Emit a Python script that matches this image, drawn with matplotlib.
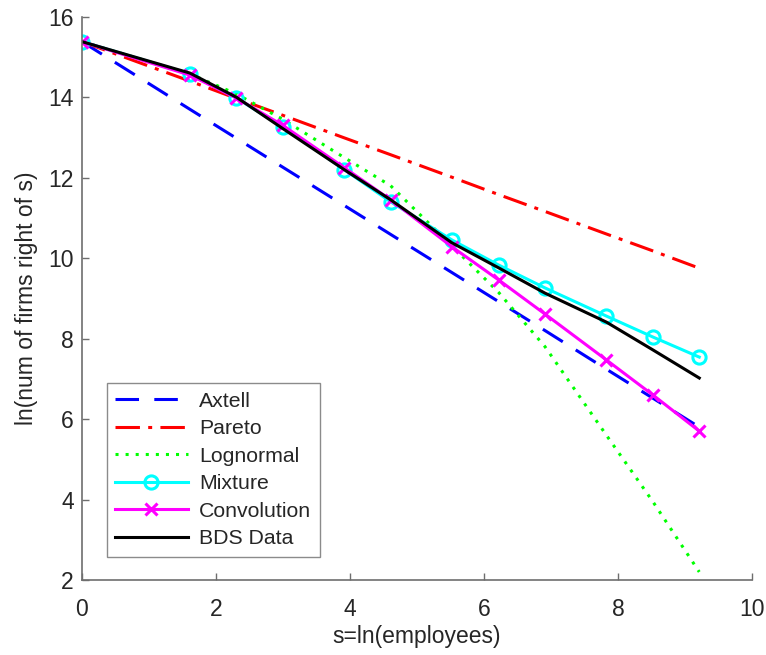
import numpy as np
import matplotlib
matplotlib.use("Agg")
import matplotlib.pyplot as plt

plt.rcParams['font.family'] = ['Liberation Sans', 'DejaVu Sans']

# x grid: ln of firm-size thresholds
s = [0.0, 1.609, 2.303, 2.996, 3.912, 4.605, 5.521, 6.215, 6.908, 7.824, 8.517, 9.210]

axtell = [15.38, 13.70, 12.98, 12.26, 11.31, 10.59, 9.64, 8.92, 8.20, 7.24, 6.52, 5.80]
pareto = [15.38, 14.40, 13.97, 13.55, 12.99, 12.57, 12.01, 11.58, 11.16, 10.60, 10.18, 9.75]
lognormal = [15.38, 14.58, 14.08, 13.45, 12.50, 11.80, 10.30, 9.15, 7.80, 5.60, 3.95, 2.20]
mixture = [15.38, 14.58, 13.98, 13.26, 12.20, 11.40, 10.45, 9.83, 9.26, 8.56, 8.04, 7.54]
convolution = [15.38, 14.55, 13.98, 13.30, 12.25, 11.45, 10.28, 9.46, 8.61, 7.47, 6.60, 5.70]
bds = [15.38, 14.60, 14.00, 13.22, 12.20, 11.45, 10.38, 9.76, 9.13, 8.41, 7.72, 7.02]

fig = plt.figure(figsize=(7.66, 6.55), dpi=100)
ax = fig.add_axes([0.107, 0.1145, 0.875, 0.86])

lw = 2.2
ax.plot(s, axtell, color='#0000ff', lw=lw, dashes=[7.7, 5], label='Axtell')
ax.plot(s, pareto, color='#ff0000', lw=lw, dashes=[8, 2.7, 1.3, 2.7], label='Pareto')
ax.plot(s, lognormal, color='#00ff00', lw=lw, dashes=[1, 2.3], label='Lognormal')
ax.plot(s, mixture, color='#00ffff', lw=lw, marker='o', markersize=9.5,
        markerfacecolor='none', markeredgewidth=2.2, label='Mixture')
ax.plot(s, convolution, color='#ff00ff', lw=lw, marker='x', markersize=8.5,
        markeredgewidth=2.2, label='Convolution')
ax.plot(s, bds, color='#000000', lw=lw, label='BDS Data')

ax.set_xlim(0, 10)
ax.set_ylim(2, 16)
ax.set_xticks([0, 2, 4, 6, 8, 10])
ax.set_yticks([2, 4, 6, 8, 10, 12, 14, 16])

for sp in ['top', 'right']:
    ax.spines[sp].set_visible(False)
for sp in ['left', 'bottom']:
    ax.spines[sp].set_color('#6e6e6e')
    ax.spines[sp].set_linewidth(1.2)
ax.tick_params(direction='in', length=5, width=1.0, color='#6e6e6e',
               labelsize=16.5, labelcolor='#262626')
ax.tick_params(axis='x', pad=13)
ax.tick_params(axis='y', pad=6)

ax.set_xlabel('s=ln(employees)', fontsize=16.5, color='#262626', labelpad=3)
ax.set_ylabel('ln(num of firms right of s)', fontsize=16.5, color='#262626', labelpad=7)

leg = ax.legend(loc='lower left', bbox_to_anchor=(0.037, 0.041), fontsize=15.3,
                handlelength=3.4, labelspacing=0.4, borderaxespad=0,
                frameon=True, fancybox=False, handletextpad=0.55, borderpad=0.4)
leg.get_frame().set_edgecolor('#6e6e6e')
leg.get_frame().set_linewidth(1.0)
for t in leg.get_texts():
    t.set_color('#262626')

fig.savefig('out.png', dpi=100)
